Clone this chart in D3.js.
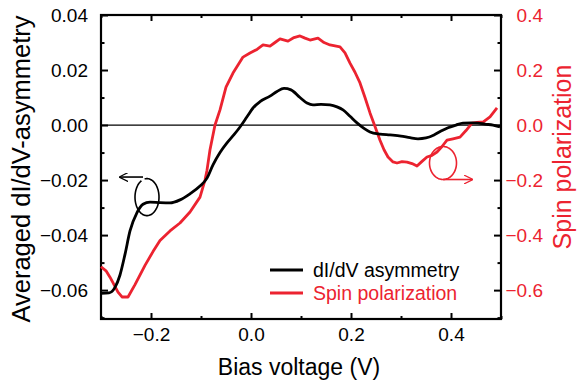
<!DOCTYPE html>
<html>
<head>
<meta charset="utf-8">
<script src="https://cdn.jsdelivr.net/npm/d3@7"></script>
<style>
  body { margin: 0; background: #fff; }
  svg { font-family: "Liberation Sans", Arial, Helvetica, sans-serif; }
</style>
</head>
<body>
<script>
// dI/dV asymmetry (left axis)
const asymV = [-0.300, -0.284, -0.272, -0.262, -0.252, -0.242, -0.228, -0.216, -0.202, -0.182, -0.162, -0.142, -0.122,
               -0.102, -0.088, -0.076, -0.062, -0.048, -0.034, -0.022, -0.008, 0.004, 0.018, 0.038, 0.052, 0.066, 0.080,
               0.098, 0.112, 0.124, 0.140, 0.158, 0.172, 0.184, 0.198, 0.212, 0.226, 0.238, 0.258, 0.278, 0.300, 0.318,
               0.334, 0.350, 0.366, 0.380, 0.394, 0.410, 0.424, 0.440, 0.454, 0.468, 0.484, 0.498];
const asym = [-0.0612, -0.0610, -0.0590, -0.0545, -0.0470, -0.0385, -0.0318, -0.0288, -0.0280, -0.0282, -0.0283, -0.0272, -0.0250,
              -0.0222, -0.0193, -0.0145, -0.0100, -0.0065, -0.0035, -0.0007, 0.0030, 0.0062, 0.0085, 0.0105, 0.0122, 0.0133, 0.0128,
              0.0100, 0.0080, 0.0073, 0.0075, 0.0073, 0.0066, 0.0055, 0.0032, 0.0008, -0.0012, -0.0025, -0.0033, -0.0036, -0.0040, -0.0046,
              -0.0050, -0.0047, -0.0036, -0.0022, -0.0010, 0.0000, 0.0007, 0.0008, 0.0007, 0.0003, 0.0000, -0.0007];

// Spin polarization (right axis)
const spinV = [-0.300, -0.290, -0.282, -0.274, -0.266, -0.258, -0.246, -0.232, -0.212, -0.196, -0.182, -0.162, -0.142, -0.122,
               -0.102, -0.092, -0.088, -0.082, -0.072, -0.062, -0.050, -0.036, -0.016, -0.002, 0.012, 0.024, 0.038, 0.048,
               0.058, 0.074, 0.086, 0.098, 0.108, 0.118, 0.134, 0.146, 0.158, 0.178, 0.188, 0.198, 0.208, 0.218, 0.228,
               0.238, 0.248, 0.258, 0.266, 0.274, 0.284, 0.292, 0.302, 0.312, 0.322, 0.332, 0.342, 0.352, 0.362, 0.372,
               0.382, 0.392, 0.404, 0.418, 0.430, 0.442, 0.452, 0.464, 0.478, 0.492];
const spin = [-0.515, -0.530, -0.553, -0.580, -0.607, -0.625, -0.625, -0.580, -0.510, -0.460, -0.420, -0.385, -0.356, -0.316,
              -0.262, -0.200, -0.164, -0.090, 0.000, 0.055, 0.138, 0.189, 0.247, 0.262, 0.275, 0.291, 0.287, 0.300,
              0.313, 0.305, 0.318, 0.324, 0.316, 0.309, 0.316, 0.300, 0.291, 0.284, 0.262, 0.225, 0.192, 0.153, 0.100,
              0.044, -0.005, -0.055, -0.090, -0.116, -0.134, -0.138, -0.133, -0.135, -0.140, -0.149, -0.132, -0.116, -0.110, -0.098,
              -0.078, -0.055, -0.050, -0.044, -0.020, 0.007, 0.010, 0.011, 0.030, 0.062];

const xTicks = [-0.2, 0.0, 0.2, 0.4];
const xMinor = [-0.3, -0.1, 0.1, 0.3, 0.5];
const leftTicks = [-0.06, -0.04, -0.02, 0.00, 0.02, 0.04];
const leftMinor = [-0.07, -0.05, -0.03, -0.01, 0.01, 0.03];
const rightTicks = [-0.6, -0.4, -0.2, 0.0, 0.2, 0.4];
const rightMinor = [-0.7, -0.5, -0.3, -0.1, 0.1, 0.3];

const red = "#ec2330";
const W = 577, H = 383;
const margin = { top: 15, right: 76, bottom: 64, left: 101 };
const width = W - margin.left - margin.right,
      height = H - margin.top - margin.bottom;

const svg = d3.select("body").append("svg")
    .attr("width", W)
    .attr("height", H);
const g = svg.append("g")
    .attr("transform", "translate(" + margin.left + "," + margin.top + ")");

const x = d3.scaleLinear().domain([-0.3, 0.5]).range([0, width]);
const yL = d3.scaleLinear().domain([-0.0705, 0.04]).range([height, 0]);
const yR = d3.scaleLinear().domain([-0.705, 0.4]).range([height, 0]);

// zero line
g.append("line")
    .attr("x1", 0).attr("x2", width)
    .attr("y1", yL(0)).attr("y2", yL(0))
    .attr("stroke", "#000").attr("stroke-width", 1.2);

// axes: majors with labels, minors without
function styleAxis(sel) {
    sel.select(".domain").remove();
    sel.selectAll("line").attr("stroke", "#000").attr("stroke-width", 2);
    sel.selectAll("text").attr("font-size", 19).attr("fill", "#000");
}
g.append("g").attr("transform", "translate(0," + height + ")")
    .call(d3.axisBottom(x).tickValues(xTicks).tickSizeInner(-6).tickSizeOuter(0).tickPadding(9).tickFormat(d3.format(".1f")))
    .call(styleAxis);
g.append("g").attr("transform", "translate(0," + height + ")")
    .call(d3.axisBottom(x).tickValues(xMinor).tickSizeInner(-3).tickSizeOuter(0).tickFormat(""))
    .call(styleAxis);
g.append("g")
    .call(d3.axisTop(x).tickValues(xTicks).tickSizeInner(-6).tickSizeOuter(0).tickFormat(""))
    .call(styleAxis);
g.append("g")
    .call(d3.axisTop(x).tickValues(xMinor).tickSizeInner(-3).tickSizeOuter(0).tickFormat(""))
    .call(styleAxis);
g.append("g")
    .call(d3.axisLeft(yL).tickValues(leftTicks).tickSizeInner(-7).tickSizeOuter(0).tickPadding(13).tickFormat(d3.format(".2f")))
    .call(styleAxis);
g.append("g")
    .call(d3.axisLeft(yL).tickValues(leftMinor).tickSizeInner(-3.5).tickSizeOuter(0).tickFormat(""))
    .call(styleAxis);
const rAxis = g.append("g").attr("transform", "translate(" + width + ",0)")
    .call(d3.axisRight(yR).tickValues(rightTicks).tickSizeInner(-7).tickSizeOuter(0).tickFormat(d3.format(".1f")))
    .call(styleAxis);
rAxis.selectAll("text").attr("x", 42).attr("text-anchor", "end").attr("fill", red);
g.append("g").attr("transform", "translate(" + width + ",0)")
    .call(d3.axisRight(yR).tickValues(rightMinor).tickSizeInner(-3.5).tickSizeOuter(0).tickFormat(""))
    .call(styleAxis);

// frame
g.append("rect")
    .attr("width", width).attr("height", height)
    .attr("fill", "none").attr("stroke", "#000").attr("stroke-width", 2.2);

// curves
const asymData = asymV.map((v, i) => [v, asym[i]]);
const spinData = spinV.map((v, i) => [v, spin[i]]);

g.append("path")
    .datum(spinData)
    .attr("fill", "none").attr("stroke", red).attr("stroke-width", 2.8)
    .attr("stroke-linejoin", "round")
    .attr("d", d3.line().x(d => x(d[0])).y(d => yR(d[1])));

g.append("path")
    .datum(asymData)
    .attr("fill", "none").attr("stroke", "#000").attr("stroke-width", 2.8)
    .attr("d", d3.line().curve(d3.curveMonotoneX).x(d => x(d[0])).y(d => yL(d[1])));

// annotation loops with arrows (positions in data units)
function loop(cx, cy, rx, ry, a0, a1) {
    const pts = d3.range(a0, a1 + 0.01, 0.05).map(a => [cx + rx * Math.cos(a), cy + ry * Math.sin(a)]);
    return d3.line().curve(d3.curveBasis)(pts);
}
svg.append("defs").selectAll("marker")
    .data([["arrK", "#000"], ["arrR", red]])
    .enter().append("marker")
    .attr("id", d => d[0])
    .attr("viewBox", "0 -5 10 10").attr("refX", 9).attr("refY", 0)
    .attr("markerWidth", 9).attr("markerHeight", 9).attr("markerUnits", "userSpaceOnUse")
    .attr("orient", "auto")
    .append("path").attr("d", "M0,-5L10,0L0,5").attr("fill", "none")
    .attr("stroke", d => d[1]).attr("stroke-width", 1.4);

// black: pointing left to the left axis
const bx = x(-0.208), by = yL(-0.0262);
g.append("path")
    .attr("d", loop(bx, by, 12, 18.5, -Math.PI / 2 - 0.2, Math.PI * 1.35))
    .attr("fill", "none").attr("stroke", "#000").attr("stroke-width", 1.6);
g.append("line")
    .attr("x1", x(-0.216)).attr("y1", yL(-0.0189))
    .attr("x2", x(-0.262)).attr("y2", yL(-0.0189))
    .attr("stroke", "#000").attr("stroke-width", 1.6)
    .attr("marker-end", "url(#arrK)");

// red: pointing right to the right axis
const rx = x(0.384), ry = yR(-0.138);
g.append("path")
    .attr("d", loop(rx, ry, 13.5, 16.5, -Math.PI * 0.75, Math.PI * 1.5))
    .attr("fill", "none").attr("stroke", red).attr("stroke-width", 1.6);
g.append("line")
    .attr("x1", rx).attr("y1", ry + 16.5)
    .attr("x2", x(0.442)).attr("y2", ry + 16.5)
    .attr("stroke", red).attr("stroke-width", 1.6)
    .attr("marker-end", "url(#arrR)");

// axis titles
svg.append("text")
    .attr("x", 299).attr("y", 375)
    .attr("text-anchor", "middle").attr("font-size", 23)
    .text("Bias voltage (V)");
svg.append("text")
    .attr("transform", "translate(30,169) rotate(-90)")
    .attr("text-anchor", "middle").attr("font-size", 25.5)
    .text("Averaged dI/dV-asymmetry");
svg.append("text")
    .attr("transform", "translate(571,157) rotate(-90)")
    .attr("text-anchor", "middle").attr("font-size", 25).attr("fill", red)
    .text("Spin polarization");

// legend
const legend = svg.selectAll(".legend")
    .data([["dI/dV asymmetry", "#000"], ["Spin polarization", red]])
    .enter().append("g")
    .attr("class", "legend")
    .attr("transform", (d, i) => "translate(270," + (270 + i * 23) + ")");
legend.append("line")
    .attr("x1", 0).attr("x2", 33)
    .attr("stroke", d => d[1]).attr("stroke-width", 2.8);
legend.append("text")
    .attr("x", 43).attr("y", 7)
    .attr("font-size", 19.5).attr("fill", d => d[1])
    .text(d => d[0]);
</script>
</body>
</html>
